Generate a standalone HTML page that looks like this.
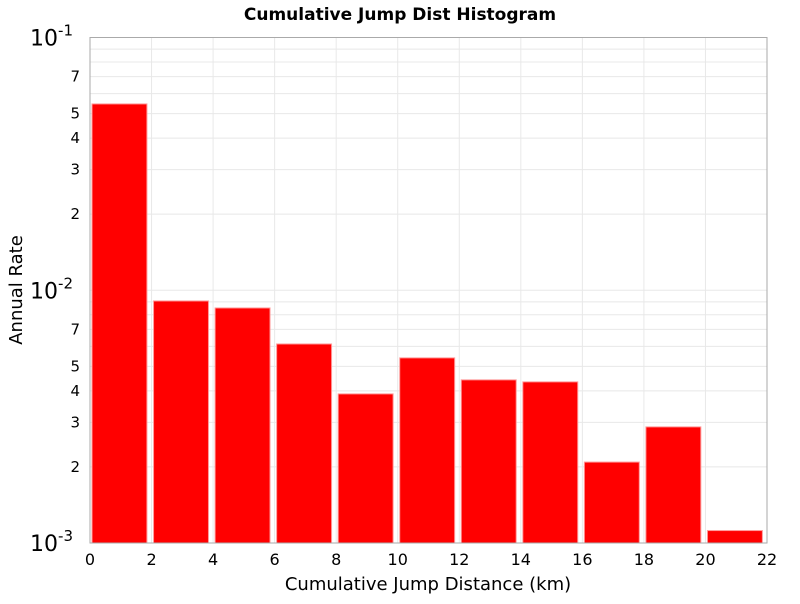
<!DOCTYPE html>
<html><head><meta charset="utf-8"><style>
body{margin:0;background:#fff;font-family:"DejaVu Sans","Liberation Sans",sans-serif;}
</style></head><body>
<svg id="chart" width="800" height="600" xmlns="http://www.w3.org/2000/svg">
<rect width="800" height="600" fill="#fff"/>
<text x="400" y="20" text-anchor="middle" font-size="17" font-weight="bold" font-family="DejaVu Sans, sans-serif">Cumulative Jump Dist Histogram</text>
<g id="grid"></g><g id="bars"></g><g id="axes"></g>
<text x="428" y="590" text-anchor="middle" font-size="18" font-family="DejaVu Sans, sans-serif">Cumulative Jump Distance (km)</text>
<text transform="translate(22,290) rotate(-90)" text-anchor="middle" font-size="18" font-family="DejaVu Sans, sans-serif">Annual Rate</text>
</svg>
<script>
const binStarts=[0,2,4,6,8,10,12,14,16,18,20];
const rates=[0.0546,0.00907,0.00851,0.00613,0.00389,0.0054,0.00442,0.00434,0.00209,0.00288,0.00112];
const xTicks=[0,2,4,6,8,10,12,14,16,18,20,22];
const yMinorLabels=[2,3,4,5,7];
const NS="http://www.w3.org/2000/svg";
const L=90,R=767,T=37.5,B=543;
const xMin=0,xMax=22,yMinLog=-3,yMaxLog=-1;
function sx(v){return L+(v-xMin)/(xMax-xMin)*(R-L);}
function sy(v){return B-(Math.log10(v)-yMinLog)/(yMaxLog-yMinLog)*(B-T);}
function mk(tag,attrs,parent){const e=document.createElementNS(NS,tag);for(const k in attrs)e.setAttribute(k,attrs[k]);parent.appendChild(e);return e;}
const grid=document.getElementById('grid'),bars=document.getElementById('bars'),axes=document.getElementById('axes');
xTicks.forEach(t=>{const l=mk('line',{x1:sx(t),x2:sx(t),y1:T,y2:B,stroke:'#e8e8e8'},grid);


const tx=mk('text',{x:sx(t),y:B+22,'text-anchor':'middle','font-size':16},axes);tx.textContent=t;

});
for(let d=-3;d<-1;d++){for(let m=1;m<10;m++){const v=m*Math.pow(10,d);
const l=mk('line',{x1:L,x2:R,y1:sy(v),y2:sy(v),stroke:'#e8e8e8'},grid);


if(yMinorLabels.includes(m)){const tx=mk('text',{x:80,y:sy(v)+5,'text-anchor':'end','font-size':15},axes);tx.textContent=m;

}}}
[-3,-2,-1].forEach(d=>{const tx=mk('text',{x:73,y:sy(Math.pow(10,d))+8,'text-anchor':'end','font-size':22},axes);
tx.innerHTML='10<tspan dy="-10" font-size="15">'+d+'</tspan>';

});
binStarts.forEach((s,i)=>{const x0=sx(s+0.065),x1=sx(s+1.85),y=sy(rates[i]);
const r=mk('rect',{x:x0,y:y,width:x1-x0,height:B-y,fill:'#ff0000',stroke:'#ff9999','stroke-width':1},bars);

});
const fr=mk('rect',{x:L,y:T,width:R-L,height:B-T,fill:'none',stroke:'#aaaaaa'},axes);


</script>
</body></html>
